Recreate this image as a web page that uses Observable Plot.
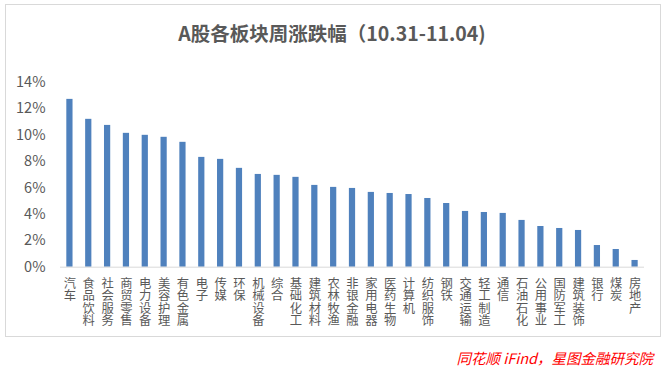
<!DOCTYPE html>
<html>
<head>
<meta charset="utf-8">
<script src="https://cdn.jsdelivr.net/npm/d3@7"></script>
<script src="https://cdn.jsdelivr.net/npm/@observablehq/plot@0.6"></script>
<style>
  html, body { margin: 0; padding: 0; background: #fff; }
  body { width: 668px; height: 367px; position: relative; overflow: hidden; font-family: "Noto Sans CJK SC", "Noto Sans", sans-serif; }
  #frame { position: absolute; left: 5px; top: 4px; width: 656px; height: 333px; border: 1px solid #d9d9d9; box-sizing: border-box; }
  #title { position: absolute; left: 0; width: 664px; top: 19px; text-align: center; font-size: 19.5px; font-weight: bold; color: #595959; line-height: 28px; }
  #chart { position: absolute; left: 0; top: 40px; }
  #caption { position: absolute; right: 15px; top: 349px; font-size: 14.5px; font-style: italic; color: #ff0000; line-height: 18px; }
</style>
</head>
<body>
<div id="frame"></div>
<div id="title">A股各板块周涨跌幅（10.31-11.04)</div>
<div id="chart"></div>
<div id="caption">同花顺 iFind，星图金融研究院</div>
<script>
const sectors = ["汽车","食品饮料","社会服务","商贸零售","电力设备","美容护理","有色金属","电子","传媒","环保","机械设备","综合","基础化工","建筑材料","农林牧渔","非银金融","家用电器","医药生物","计算机","纺织服饰","钢铁","交通运输","轻工制造","通信","石油石化","公用事业","国防军工","建筑装饰","银行","煤炭","房地产"];
const changes = [0.1270,0.1119,0.1073,0.1013,0.0998,0.0983,0.0945,0.0831,0.0816,0.0748,0.0702,0.0695,0.0680,0.0619,0.0604,0.0596,0.0566,0.0558,0.0550,0.0520,0.0482,0.0422,0.0414,0.0407,0.0354,0.0308,0.0293,0.0278,0.0164,0.0134,0.0051];
const yTicks = [0,0.02,0.04,0.06,0.08,0.10,0.12,0.14];

const data = sectors.map((s, i) => ({sector: s, value: changes[i]}));

const chart = Plot.plot({
  width: 668,
  height: 300,
  marginTop: 41.7,
  marginBottom: 73.3,
  marginLeft: 60,
  marginRight: 24,
  style: {fontFamily: "'Noto Sans CJK SC', sans-serif", background: "transparent"},
  x: {domain: sectors, paddingInner: 0.67, paddingOuter: 0.335, round: false, label: null},
  y: {domain: [0, 0.14], label: null},
  marks: [
    Plot.barY(data, {x: "sector", y: "value", fill: "#4F81BD"}),
    Plot.ruleY([0], {stroke: "#d9d9d9", strokeWidth: 1}),
    Plot.axisY({ticks: yTicks, tickFormat: d3.format(".0%"), tickSize: 0, tickPadding: 15, fontSize: 14.5, color: "#595959", label: null}),
    Plot.axisX({tickSize: 0, tickPadding: 10, fontSize: 12.3, color: "#595959", textAnchor: "start", label: null, className: "xlab"})
  ]
});
d3.select(chart).selectAll(".xlab text")
  .attr("dy", null)
  .attr("y", null)
  .attr("writing-mode", "vertical-rl")
  .style("text-orientation", "upright")
  .attr("text-anchor", "start");
document.getElementById("chart").appendChild(chart);
</script>
</body>
</html>
